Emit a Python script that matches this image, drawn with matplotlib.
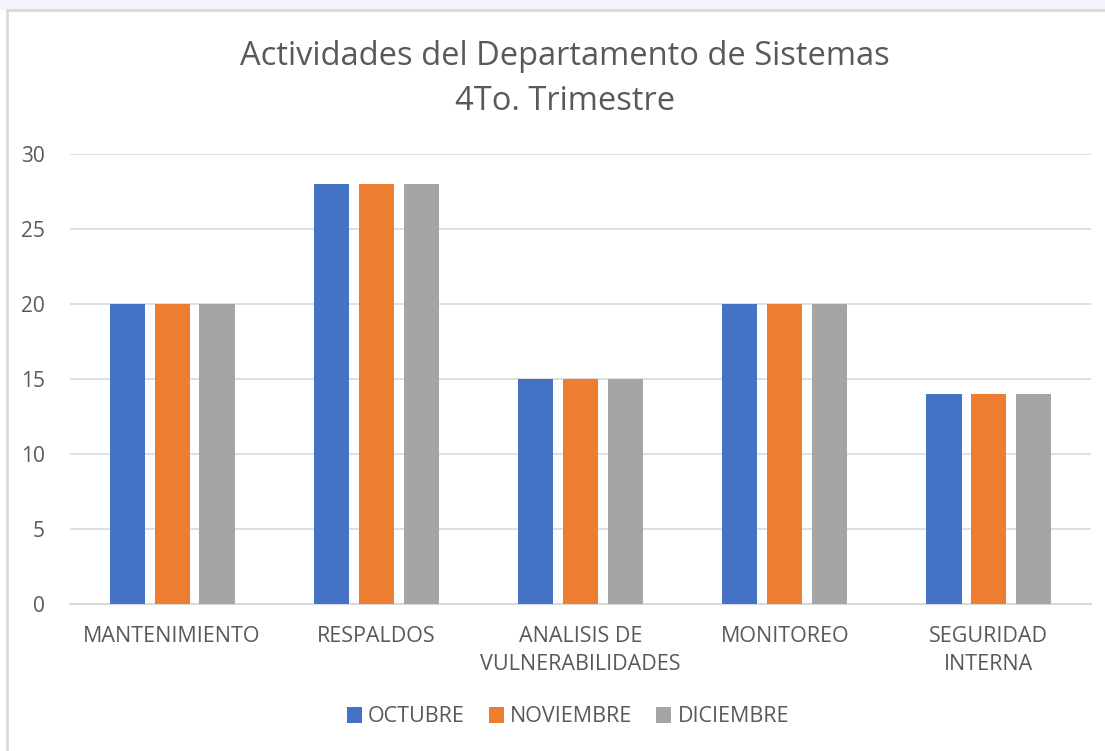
import numpy as np
import matplotlib.pyplot as plt
from matplotlib.patches import Rectangle

categories = ["MANTENIMIENTO", "RESPALDOS", "ANALISIS DE\nVULNERABILIDADES", "MONITOREO", "SEGURIDAD\nINTERNA"]
octubre = [20, 28, 15, 20, 14]
noviembre = [20, 28, 15, 20, 14]
diciembre = [20, 28, 15, 20, 14]
series_names = ["OCTUBRE", "NOVIEMBRE", "DICIEMBRE"]
colors = ["#4472C4", "#ED7D31", "#A5A5A5"]

plt.rcParams['font.family'] = ['Open Sans', 'DejaVu Sans']
text_color = "#595959"

fig = plt.figure(figsize=(11.05, 7.51), dpi=100)

# faint strip above the chart frame and the frame itself
fig.patches.append(Rectangle((0, 1 - 10 / 751), 1, 10 / 751, transform=fig.transFigure,
                             facecolor="#F4F5FB", edgecolor="none", zorder=0))
fig.patches.append(Rectangle((7 / 1105, -0.01), 1.0, 1 - 10 / 751 + 0.01, transform=fig.transFigure,
                             facecolor="white", edgecolor="#D9D9D9", linewidth=2, zorder=1))

ax = fig.add_axes([70 / 1105, 147 / 751, 1021 / 1105, 450 / 751])
ax.set_zorder(2)
ax.patch.set_alpha(0)

x = np.arange(len(categories))
width = 0.172
offset = 0.22
bars = []
for i, vals in enumerate([octubre, noviembre, diciembre]):
    b = ax.bar(x + (i - 1) * offset, vals, width, color=colors[i], label=series_names[i], zorder=3)
    bars.append(b)

ax.set_xlim(-0.5, len(categories) - 0.5)
ax.set_ylim(0, 30)
ax.set_yticks(range(0, 31, 5))
ax.set_xticks(x)
ax.set_xticklabels(categories, fontsize=15.5, color=text_color, linespacing=1.45)
ax.tick_params(axis='y', labelsize=15, labelcolor=text_color, length=0, pad=18)
ax.tick_params(axis='x', length=0, pad=16)
ax.grid(axis='y', color="#D9D9D9", linewidth=1.2, zorder=0)
for s in ["top", "right", "left"]:
    ax.spines[s].set_visible(False)
ax.spines["bottom"].set_color("#D9D9D9")
ax.spines["bottom"].set_linewidth(1.5)

fig.text(0.511, 1 - 79 / 751, "Actividades del Departamento de Sistemas\n4To. Trimestre",
         ha="center", va="center", fontsize=23.5, color=text_color, linespacing=1.45)

fig.legend(handles=bars, labels=series_names, loc="center", bbox_to_anchor=(0.514, 1 - 717 / 751),
           ncol=3, frameon=False, fontsize=15.5, labelcolor=text_color,
           handlelength=0.7, handleheight=0.7, handletextpad=0.3, columnspacing=1.1)

fig.savefig("out.png", dpi=100)
